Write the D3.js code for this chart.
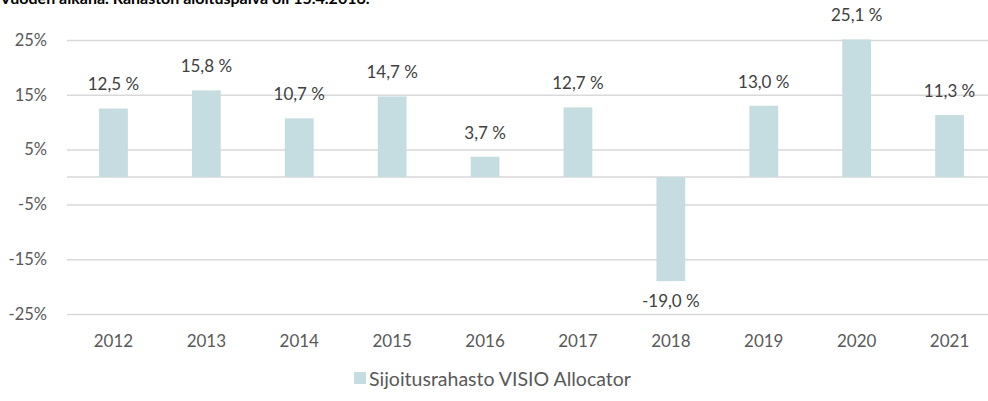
<!DOCTYPE html>
<html>
<head>
<meta charset="utf-8">
<script src="https://cdn.jsdelivr.net/npm/d3@7"></script>
<style>
  body { margin: 0; background: #fff; }
  svg { display: block; font-family: Lato, "Open Sans", sans-serif; }
</style>
</head>
<body>
<div></div>
<script>
var years = ["2012", "2013", "2014", "2015", "2016", "2017", "2018", "2019", "2020", "2021"];
var returns = [12.5, 15.8, 10.7, 14.7, 3.7, 12.7, -19.0, 13.0, 25.1, 11.3];
var yTicks = [-25, -15, -5, 5, 15, 25];
var seriesName = "Sijoitusrahasto VISIO Allocator";
var titleText = "Vuoden aikana. Rahaston aloituspäivä oli 15.4.2016.";

var widthSvg = 988,
    heightSvg = 401;

var svg = d3.select("div").append("svg")
    .attr("width", widthSvg)
    .attr("height", heightSvg);

var plotLeft = 67, plotRight = 996, plotTop = 40, plotBottom = 314;

var xScale = d3.scaleBand()
    .domain(years)
    .range([plotLeft, plotRight])
    .paddingInner(0.69)
    .paddingOuter(0.345);

var yScale = d3.scaleLinear()
    .domain([-25, 25])
    .range([plotBottom, plotTop]);

var barColor = "#c5dde0";

// title (cut off at the top, as in the original)
svg.append("text")
    .attr("x", 0)
    .attr("y", 4)
    .attr("font-weight", "bold")
    .attr("font-size", 16)
    .attr("fill", "#000")
    .text(titleText);

// gridlines + y labels
var yAxis = svg.append("g")
    .attr("transform", "translate(" + plotLeft + ",0)")
    .call(d3.axisLeft(yScale)
        .tickValues(yTicks)
        .tickSize(-(widthSvg - plotLeft))
        .tickPadding(20)
        .tickFormat(function (d) { return d + "%"; }));
yAxis.select(".domain").remove();
yAxis.selectAll("line").attr("stroke", "#d9d9d9").attr("stroke-width", 1.5);
yAxis.selectAll("text")
    .attr("fill", "#595959")
    .attr("font-size", 16.5)
    .attr("font-family", "Lato, sans-serif");

// zero line
svg.append("line")
    .attr("x1", plotLeft)
    .attr("x2", widthSvg)
    .attr("y1", yScale(0))
    .attr("y2", yScale(0))
    .attr("stroke", "#d9d9d9")
    .attr("stroke-width", 1.5);

// bars
svg.append("g")
    .selectAll("rect")
    .data(returns)
    .enter()
    .append("rect")
    .attr("x", function (d, i) { return xScale(years[i]); })
    .attr("y", function (d) { return yScale(Math.max(0, d)); })
    .attr("width", xScale.bandwidth())
    .attr("height", function (d) { return Math.abs(yScale(d) - yScale(0)); })
    .attr("fill", barColor);

// data labels
svg.append("g")
    .selectAll("text")
    .data(returns)
    .enter()
    .append("text")
    .attr("x", function (d, i) { return xScale(years[i]) + xScale.bandwidth() / 2; })
    .attr("y", function (d) { return d >= 0 ? yScale(d) - 24 : yScale(d) + 20; })
    .attr("dy", "0.35em")
    .attr("text-anchor", "middle")
    .attr("font-size", 17)
    .attr("fill", "#404040")
    .text(function (d) { return d.toFixed(1).replace(".", ",") + " %"; });

// x labels
var xAxis = svg.append("g")
    .attr("transform", "translate(0,334)")
    .call(d3.axisBottom(xScale).tickSize(0).tickPadding(0));
xAxis.select(".domain").remove();
xAxis.selectAll("text")
    .attr("dy", "0.35em")
    .attr("y", 7)
    .attr("fill", "#595959")
    .attr("font-size", 17)
    .attr("font-family", "Lato, sans-serif");

// legend
var legend = svg.append("g");
legend.append("rect")
    .attr("x", 354)
    .attr("y", 372)
    .attr("width", 12)
    .attr("height", 12)
    .attr("fill", barColor);
legend.append("text")
    .attr("x", 369)
    .attr("y", 379)
    .attr("dy", "0.35em")
    .attr("font-size", 19.5)
    .attr("fill", "#595959")
    .text(seriesName);
</script>
</body>
</html>
